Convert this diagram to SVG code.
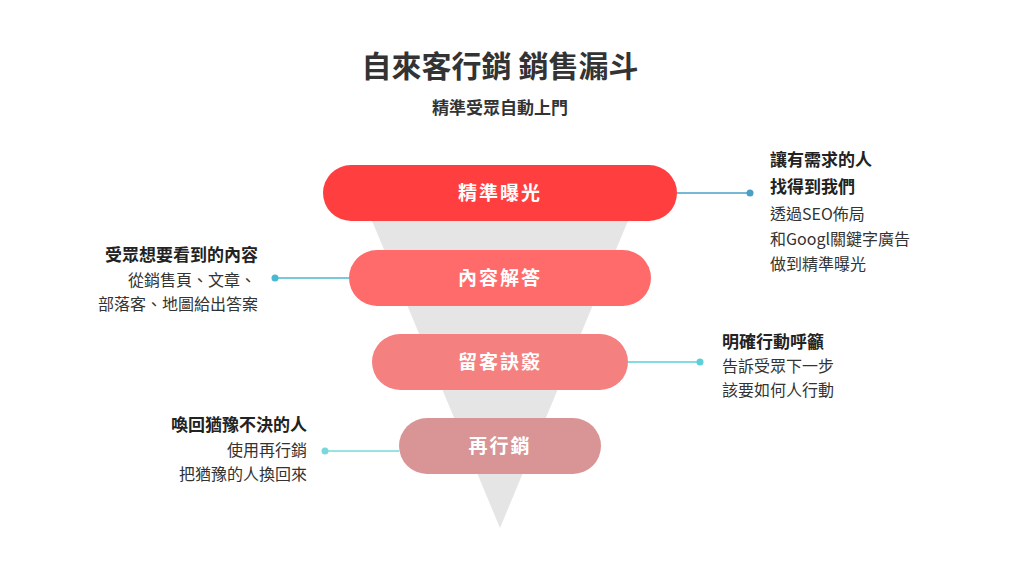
<svg xmlns="http://www.w3.org/2000/svg" width="1024" height="576" viewBox="0 0 1024 576">
<style>
text{font-family:"Noto Sans CJK TC","Noto Sans CJK SC",sans-serif;fill:#333}
.t{font-weight:700}
.p{fill:#fff;font-size:19px;font-weight:700;text-anchor:middle;letter-spacing:2px}
.b{font-size:17px;font-weight:700;fill:#222}
.r{font-size:16px;fill:#333}
.ln{stroke-width:1.5;fill:none}
</style>
<rect width="1024" height="576" fill="#fff"/>
<text x="500" y="77" text-anchor="middle" class="t" font-size="30" fill="#333">自來客行銷  銷售漏斗</text>
<text x="500" y="114" text-anchor="middle" class="t" font-size="17">精準受眾自動上門</text>
<polygon points="355,180 645,180 500,528" fill="#e5e5e5"/>
<g id="connectors">
<line class="ln" x1="677" y1="193" x2="750" y2="193" stroke="#4a9fc8"/><circle cx="750" cy="193" r="3.5" fill="#4a9fc8"/>
<line class="ln" x1="275" y1="278" x2="349" y2="278" stroke="#4ab8d0"/><circle cx="275" cy="278" r="3.5" fill="#4ab8d0"/>
<line class="ln" x1="628" y1="362" x2="700" y2="362" stroke="#5ccfd8"/><circle cx="700" cy="362" r="3.5" fill="#5ccfd8"/>
<line class="ln" x1="325" y1="451" x2="399" y2="451" stroke="#7ad8dc"/><circle cx="325" cy="451" r="3.5" fill="#7ad8dc"/>
</g>
<g id="n1"><rect x="323" y="165" width="354" height="56" rx="28" fill="#ff3f3f"/><text class="p" x="500" y="200">精準曝光</text></g>
<g id="n2"><rect x="349" y="250" width="302" height="56" rx="28" fill="#ff6b6b"/><text class="p" x="500" y="285">內容解答</text></g>
<g id="n3"><rect x="372" y="334" width="256" height="56" rx="28" fill="#f58080"/><text class="p" x="500" y="369">留客訣竅</text></g>
<g id="n4"><rect x="399" y="418" width="202" height="56" rx="28" fill="#d99595"/><text class="p" x="500" y="453">再行銷</text></g>
<g id="d1"><text class="b" x="770" y="166">讓有需求的人</text><text class="b" x="770" y="193">找得到我們</text><text class="r" x="770" y="220">透過SEO佈局</text><text class="r" x="770" y="245">和Googl關鍵字廣告</text><text class="r" x="770" y="270">做到精準曝光</text></g>
<g id="d2" text-anchor="end"><text class="b" x="258" y="261">受眾想要看到的內容</text><text class="r" x="256" y="286">從銷售頁、文章、</text><text class="r" x="258" y="310">部落客、地圖給出答案</text></g>
<g id="d3"><text class="b" x="722" y="348">明確行動呼籲</text><text class="r" x="722" y="372">告訴受眾下一步</text><text class="r" x="722" y="396">該要如何人行動</text></g>
<g id="d4" text-anchor="end"><text class="b" x="307" y="431">喚回猶豫不決的人</text><text class="r" x="307" y="456">使用再行銷</text><text class="r" x="307" y="480">把猶豫的人換回來</text></g>
</svg>
